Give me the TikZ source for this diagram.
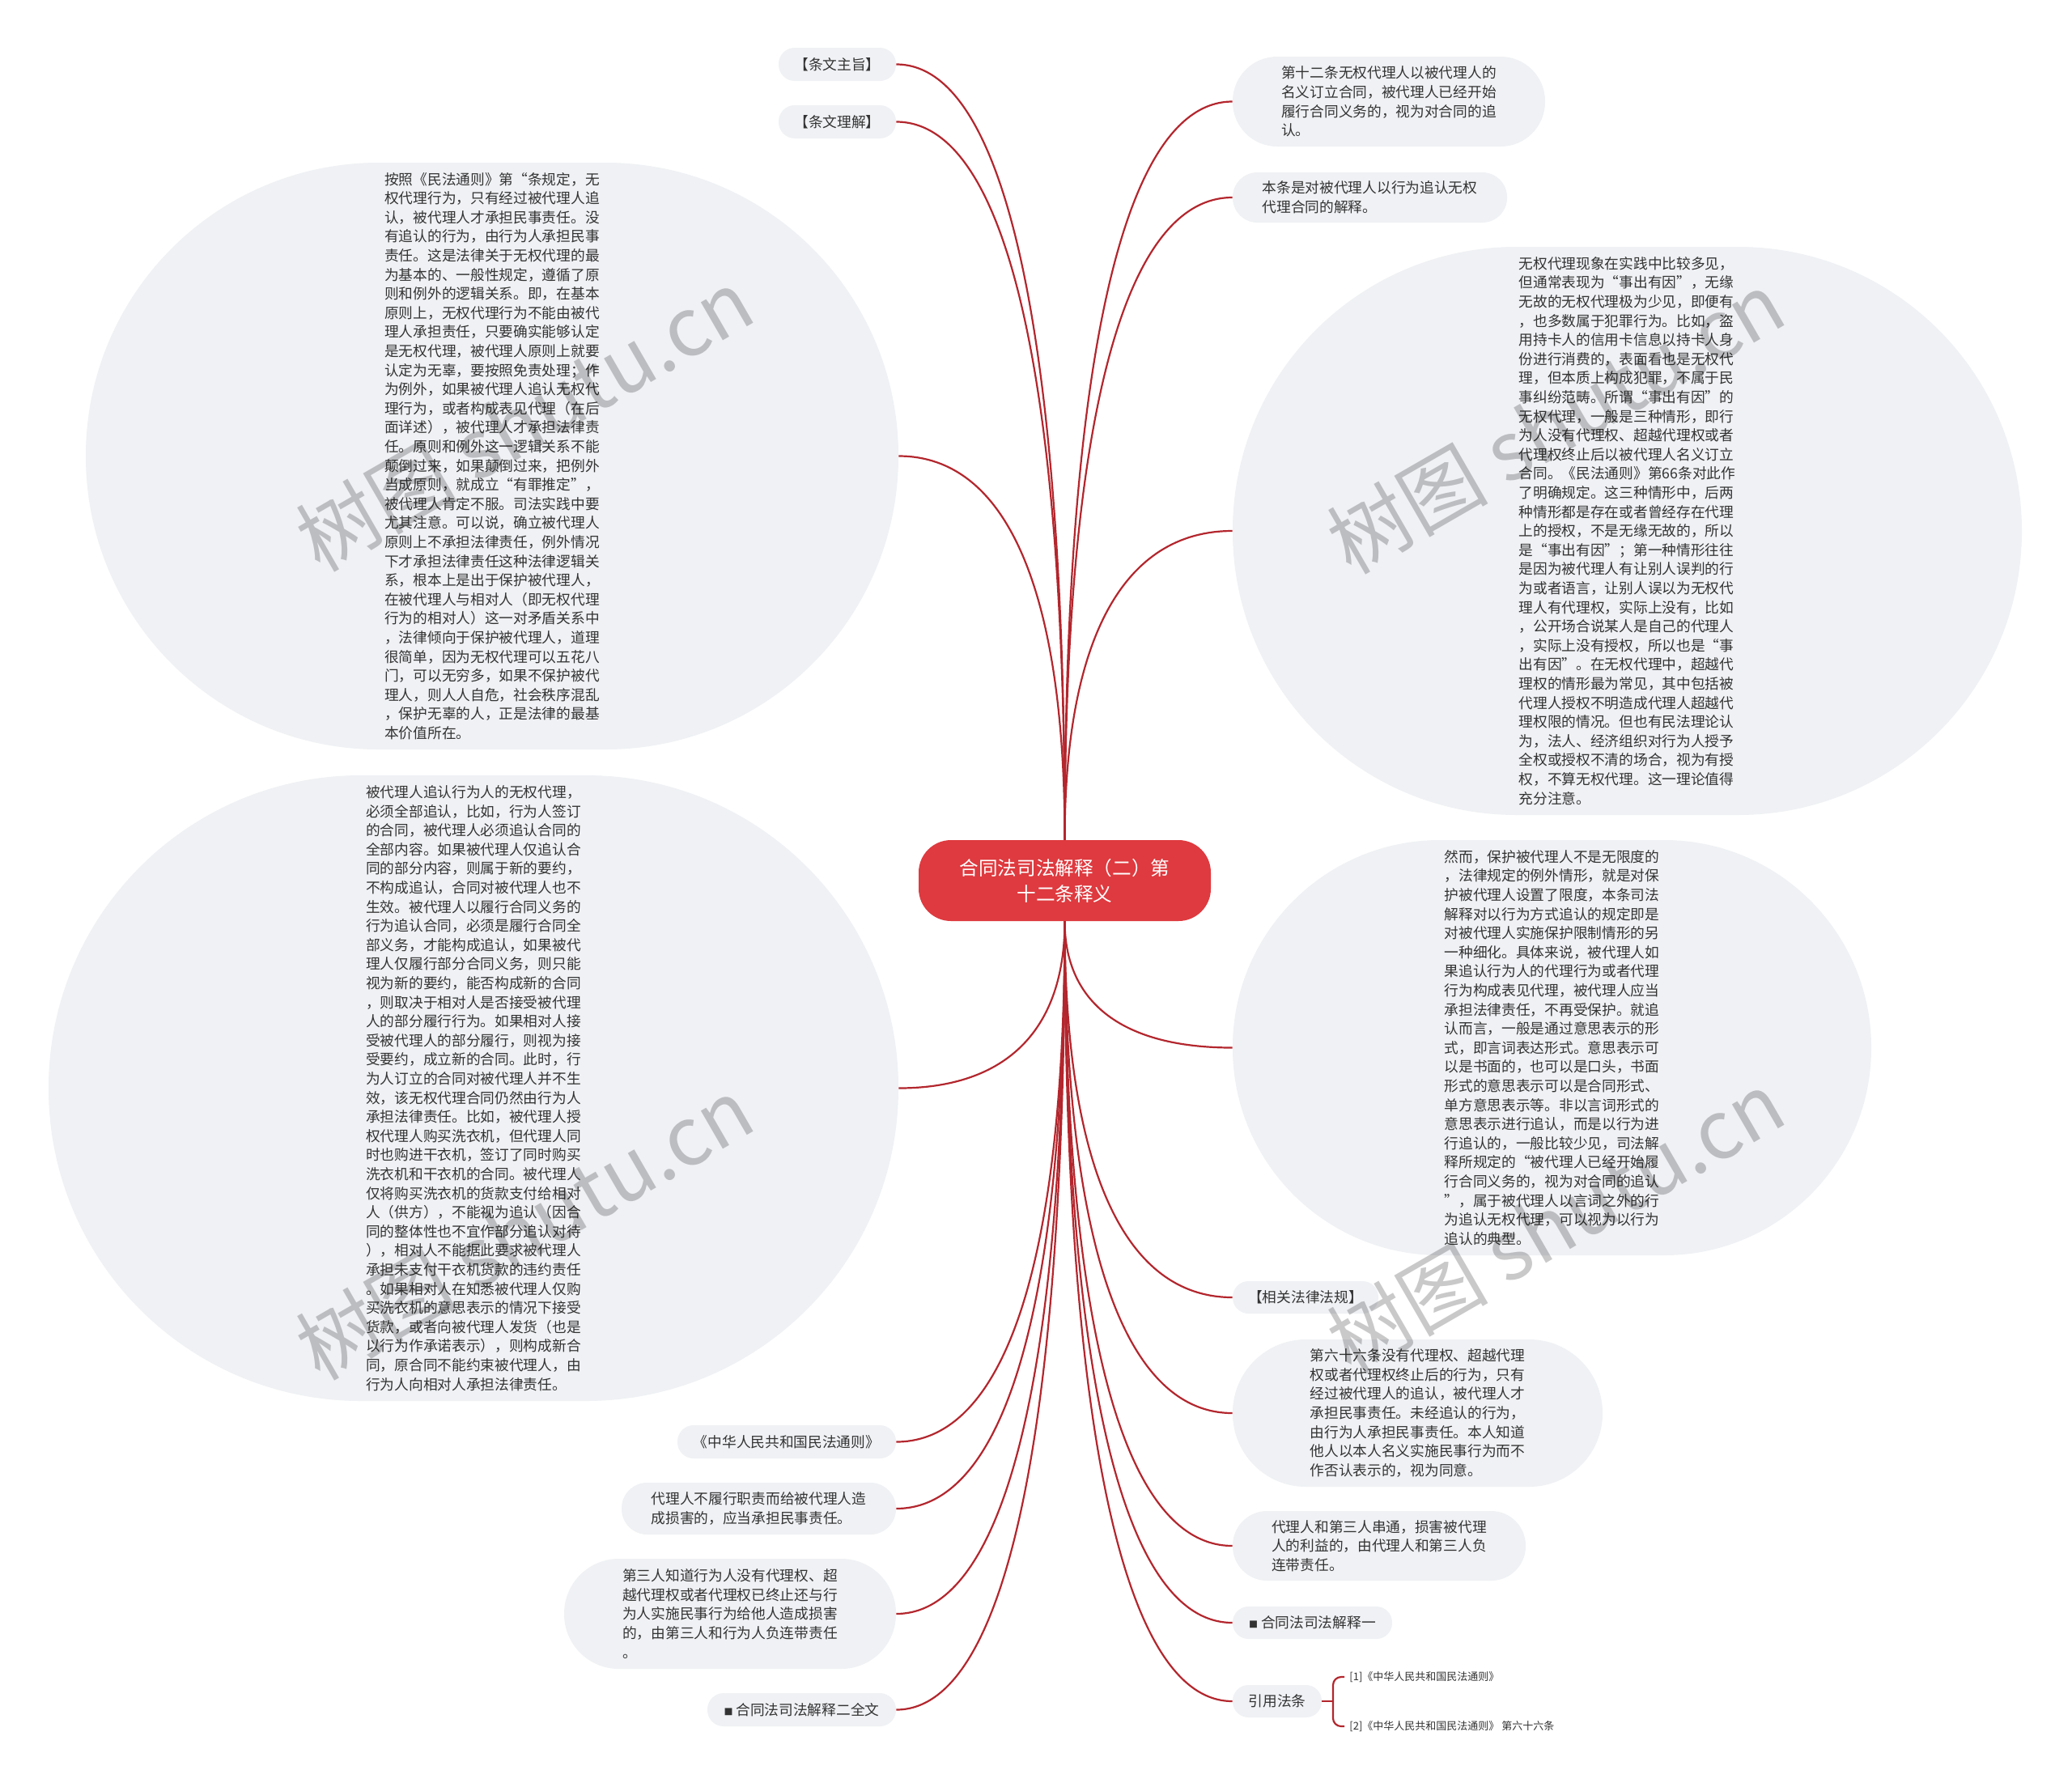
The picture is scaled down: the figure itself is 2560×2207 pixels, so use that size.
\documentclass[tikz,border=0pt]{standalone}
\usepackage{fontspec}
\newfontfamily\cjk{Noto Sans CJK SC}
\usetikzlibrary{calc}
\definecolor{bubcol}{HTML}{EFF1F4}
\definecolor{txtcol}{HTML}{333333}
\definecolor{linkcol}{HTML}{B3262D}
\definecolor{rootcol}{HTML}{DE3A3F}
\newcommand\mmlink[2]{\draw[link] (#1) .. controls ($(#1)!0.65!(#1 |- #2)$) and ($(#2)!0.65!(#1 |- #2)$) .. (#2);}
\begin{document}
\begin{tikzpicture}[x=0.5pt,y=-0.5pt,
  bub/.style={fill=bubcol, text=txtcol, font=\cjk\fontsize{8.85}{11.8}\selectfont, align=left, inner sep=0pt},
  root/.style={fill=rootcol, text=white, font=\cjk\fontsize{11.8}{16}\selectfont, align=center, inner sep=0pt},
  link/.style={draw=linkcol, line width=1.1pt},
  small/.style={text=txtcol, font=\cjk\fontsize{6.5}{8}\selectfont, inner sep=3pt, anchor=west},
  wm/.style={text=black, text opacity=0.21, font=\cjk\fontsize{50}{50}\selectfont, rotate=30}]
\useasboundingbox (0,0) rectangle (2560,2207);
\fill[white] (0,0) rectangle (2560,2207);

% root
\node[root, minimum width=180.5pt, minimum height=50pt, rounded corners=20pt] (c) at (1315.5,1088) {合同法司法解释（二）第\\十二条释义};

% left nodes
\node[bub, minimum width=72.5pt, minimum height=20.5pt, rounded corners=10pt] (a1) at (1034.5,79.5) {【条文主旨】};
\node[bub, minimum width=72.5pt, minimum height=20.5pt, rounded corners=10pt] (a2) at (1034.5,150.5) {【条文理解】};
\node[bub, minimum width=502pt, minimum height=362.5pt, rounded corners=181pt] (a3) at (608,563.5) {按照《民法通则》第“条规定，无\\权代理行为，只有经过被代理人追\\认，被代理人才承担民事责任。没\\有追认的行为，由行为人承担民事\\责任。这是法律关于无权代理的最\\为基本的、一般性规定，遵循了原\\则和例外的逻辑关系。即，在基本\\原则上，无权代理行为不能由被代\\理人承担责任，只要确实能够认定\\是无权代理，被代理人原则上就要\\认定为无辜，要按照免责处理；作\\为例外，如果被代理人追认无权代\\理行为，或者构成表见代理（在后\\面详述），被代理人才承担法律责\\任。原则和例外这一逻辑关系不能\\颠倒过来，如果颠倒过来，把例外\\当成原则，就成立“有罪推定”，\\被代理人肯定不服。司法实践中要\\尤其注意。可以说，确立被代理人\\原则上不承担法律责任，例外情况\\下才承担法律责任这种法律逻辑关\\系，根本上是出于保护被代理人，\\在被代理人与相对人（即无权代理\\行为的相对人）这一对矛盾关系中\\，法律倾向于保护被代理人，道理\\很简单，因为无权代理可以五花八\\门，可以无穷多，如果不保护被代\\理人，则人人自危，社会秩序混乱\\，保护无辜的人，正是法律的最基\\本价值所在。};
\node[bub, minimum width=525pt, minimum height=386.5pt, rounded corners=193pt] (a4) at (585,1344.5) {被代理人追认行为人的无权代理，\\必须全部追认，比如，行为人签订\\的合同，被代理人必须追认合同的\\全部内容。如果被代理人仅追认合\\同的部分内容，则属于新的要约，\\不构成追认，合同对被代理人也不\\生效。被代理人以履行合同义务的\\行为追认合同，必须是履行合同全\\部义务，才能构成追认，如果被代\\理人仅履行部分合同义务，则只能\\视为新的要约，能否构成新的合同\\，则取决于相对人是否接受被代理\\人的部分履行行为。如果相对人接\\受被代理人的部分履行，则视为接\\受要约，成立新的合同。此时，行\\为人订立的合同对被代理人并不生\\效，该无权代理合同仍然由行为人\\承担法律责任。比如，被代理人授\\权代理人购买洗衣机，但代理人同\\时也购进干衣机，签订了同时购买\\洗衣机和干衣机的合同。被代理人\\仅将购买洗衣机的货款支付给相对\\人（供方），不能视为追认（因合\\同的整体性也不宜作部分追认对待\\），相对人不能据此要求被代理人\\承担未支付干衣机货款的违约责任\\。如果相对人在知悉被代理人仅购\\买洗衣机的意思表示的情况下接受\\货款，或者向被代理人发货（也是\\以行为作承诺表示），则构成新合\\同，原合同不能约束被代理人，由\\行为人向相对人承担法律责任。};
\node[bub, minimum width=135pt, minimum height=20.5pt, rounded corners=10pt] (a5) at (972,1781.5) {《中华人民共和国民法通则》};
\node[bub, minimum width=169.5pt, minimum height=32pt, rounded corners=15.8pt] (a6) at (937.5,1864) {代理人不履行职责而给被代理人造\\成损害的，应当承担民事责任。};
\node[bub, minimum width=205pt, minimum height=68pt, rounded corners=33.8pt] (a7) at (902,1994) {第三人知道行为人没有代理权、超\\越代理权或者代理权已终止还与行\\为人实施民事行为给他人造成损害\\的，由第三人和行为人负连带责任\\。};
\node[bub, minimum width=116.5pt, minimum height=20.5pt, rounded corners=10pt] (a8) at (990.5,2112.5) {{\fontsize{5.5}{6}\selectfont ■}\ 合同法司法解释二全文};

% right nodes
\node[bub, minimum width=193pt, minimum height=55.5pt, rounded corners=27.5pt] (b1) at (1716,125.5) {第十二条无权代理人以被代理人的\\名义订立合同，被代理人已经开始\\履行合同义务的，视为对合同的追\\认。};
\node[bub, minimum width=169.5pt, minimum height=31pt, rounded corners=15.3pt] (b2) at (1692.5,244) {本条是对被代理人以行为追认无权\\代理合同的解释。};
\node[bub, minimum width=487.5pt, minimum height=351pt, rounded corners=175.3pt] (b3) at (2010.5,656) {无权代理现象在实践中比较多见，\\但通常表现为“事出有因”，无缘\\无故的无权代理极为少见，即便有\\，也多数属于犯罪行为。比如，盗\\用持卡人的信用卡信息以持卡人身\\份进行消费的，表面看也是无权代\\理，但本质上构成犯罪，不属于民\\事纠纷范畴。所谓“事出有因”的\\无权代理，一般是三种情形，即行\\为人没有代理权、超越代理权或者\\代理权终止后以被代理人名义订立\\合同。《民法通则》第66条对此作\\了明确规定。这三种情形中，后两\\种情形都是存在或者曾经存在代理\\上的授权，不是无缘无故的，所以\\是“事出有因”；第一种情形往往\\是因为被代理人有让别人误判的行\\为或者语言，让别人误以为无权代\\理人有代理权，实际上没有，比如\\，公开场合说某人是自己的代理人\\，实际上没有授权，所以也是“事\\出有因”。在无权代理中，超越代\\理权的情形最为常见，其中包括被\\代理人授权不明造成代理人超越代\\理权限的情况。但也有民法理论认\\为，法人、经济组织对行为人授予\\全权或授权不清的场合，视为有授\\权，不算无权代理。这一理论值得\\充分注意。};
\node[bub, minimum width=394.5pt, minimum height=256.5pt, rounded corners=128pt] (b4) at (1917.5,1294.5) {然而，保护被代理人不是无限度的\\，法律规定的例外情形，就是对保\\护被代理人设置了限度，本条司法\\解释对以行为方式追认的规定即是\\对被代理人实施保护限制情形的另\\一种细化。具体来说，被代理人如\\果追认行为人的代理行为或者代理\\行为构成表见代理，被代理人应当\\承担法律责任，不再受保护。就追\\认而言，一般是通过意思表示的形\\式，即言词表达形式。意思表示可\\以是书面的，也可以是口头，书面\\形式的意思表示可以是合同形式、\\单方意思表示等。非以言词形式的\\意思表示进行追认，而是以行为进\\行追认的，一般比较少见，司法解\\释所规定的“被代理人已经开始履\\行合同义务的，视为对合同的追认\\”，属于被代理人以言词之外的行\\为追认无权代理，可以视为以行为\\追认的典型。};
\node[bub, minimum width=90pt, minimum height=20pt, rounded corners=9.8pt] (b5) at (1613,1603) {【相关法律法规】};
\node[bub, minimum width=228.5pt, minimum height=91pt, rounded corners=45.3pt] (b6) at (1751.5,1746) {第六十六条没有代理权、超越代理\\权或者代理权终止后的行为，只有\\经过被代理人的追认，被代理人才\\承担民事责任。未经追认的行为，\\由行为人承担民事责任。本人知道\\他人以本人名义实施民事行为而不\\作否认表示的，视为同意。};
\node[bub, minimum width=181pt, minimum height=43pt, rounded corners=21.3pt] (b7) at (1704,1910) {代理人和第三人串通，损害被代理\\人的利益的，由代理人和第三人负\\连带责任。};
\node[bub, minimum width=98.5pt, minimum height=20pt, rounded corners=9.8pt] (b8) at (1621.5,2005) {{\fontsize{5.5}{6}\selectfont ■}\ 合同法司法解释一};
\node[bub, minimum width=55pt, minimum height=20pt, rounded corners=9.8pt] (b9) at (1578,2102) {引用法条};
\node[small] (r1) at (1661,2072) {[1]《中华人民共和国民法通则》};
\node[small] (r2) at (1661,2133) {[2]《中华人民共和国民法通则》 第六十六条};

% links
\mmlink{c.north}{a1.east}
\mmlink{c.north}{a2.east}
\mmlink{c.north}{a3.east}
\mmlink{c.north}{b1.west}
\mmlink{c.north}{b2.west}
\mmlink{c.north}{b3.west}
\mmlink{c.south}{a4.east}
\mmlink{c.south}{a5.east}
\mmlink{c.south}{a6.east}
\mmlink{c.south}{a7.east}
\mmlink{c.south}{a8.east}
\mmlink{c.south}{b4.west}
\mmlink{c.south}{b5.west}
\mmlink{c.south}{b6.west}
\mmlink{c.south}{b7.west}
\mmlink{c.south}{b8.west}
\mmlink{c.south}{b9.west}
\coordinate (bk) at (1647,2102);
\draw[link] (b9.east) -- (bk);
\draw[link, rounded corners=5pt] (bk) |- (r1.west);
\draw[link, rounded corners=5pt] (bk) |- (r2.west);

% watermarks
\node[wm] (w1) at (648,519) {树图 shutu.cn};
\node[wm] (w2) at (648,1518) {树图 shutu.cn};
\node[wm] (w3) at (1922,522) {树图 shutu.cn};
\node[wm] (w4) at (1922,1510) {树图 shutu.cn};
\end{tikzpicture}
\end{document}
